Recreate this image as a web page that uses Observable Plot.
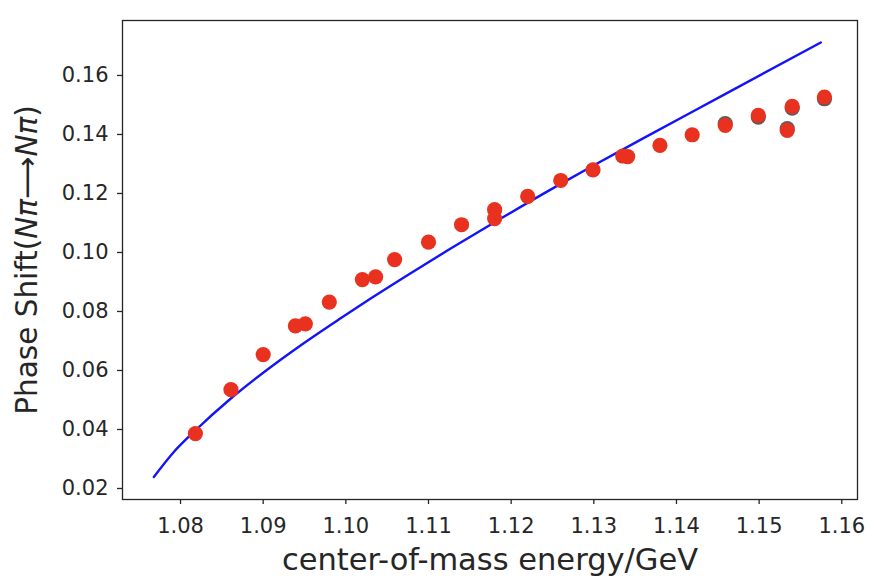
<!DOCTYPE html>
<html>
<head>
<meta charset="utf-8">
<script src="https://cdn.jsdelivr.net/npm/d3@7"></script>
<script src="https://cdn.jsdelivr.net/npm/@observablehq/plot@0.6"></script>
<style>
  html, body { margin: 0; padding: 0; background: #fff; }
  #chart svg { display: block; }
</style>
</head>
<body>
<div id="chart"></div>
<script>
// Measured phase shifts (red dots)
const energy = [1.0818, 1.0861, 1.0900, 1.0939, 1.0951, 1.0980, 1.1020, 1.1036, 1.1059, 1.1100,
                1.1140, 1.1180, 1.1180, 1.1220, 1.1260, 1.1299, 1.1335, 1.1341, 1.1380, 1.1419,
                1.1459, 1.1499, 1.1534, 1.1540, 1.1579];
const phase  = [0.0386, 0.0535, 0.0654, 0.0751, 0.0758, 0.0832, 0.0908, 0.0917, 0.0976, 0.1035,
                0.1094, 0.1145, 0.1115, 0.1190, 0.1244, 0.1280, 0.1327, 0.1325, 0.1363, 0.1399,
                0.1431, 0.1465, 0.1414, 0.1495, 0.1527];
// Dark markers partly hidden beneath the red ones
const hiddenEnergy = [1.1459, 1.1499, 1.1534, 1.1540, 1.1579];
const hiddenPhase  = [0.1437, 0.1459, 0.1420, 0.1489, 0.1521];
// Fitted curve (blue line)
const fitEnergy = [1.07677, 1.07919, 1.08182, 1.08605, 1.09008, 1.09452, 1.09937, 1.10300, 1.10784,
                   1.11268, 1.11800, 1.12599, 1.12990, 1.13568, 1.14588, 1.15746];
const fitPhase  = [0.02392, 0.03239, 0.03974, 0.05041, 0.05942, 0.06850, 0.07771, 0.08439, 0.09299,
                   0.10133, 0.11027, 0.12325, 0.12938, 0.13825, 0.15367, 0.17118];
// Axes
const xTicks = [1.08, 1.09, 1.10, 1.11, 1.12, 1.13, 1.14, 1.15, 1.16];
const yTicks = [0.02, 0.04, 0.06, 0.08, 0.10, 0.12, 0.14, 0.16];
const xDomain = [1.07298, 1.16190];
const yDomain = [0.01627, 0.17863];
const xLabel = "center-of-mass energy/GeV";
const yLabel = "Phase Shift(Nπ⟶Nπ)";

const points = energy.map((x, i) => ({x, y: phase[i]}));
const hidden = hiddenEnergy.map((x, i) => ({x, y: hiddenPhase[i]}));
const fit = fitEnergy.map((x, i) => ({x, y: fitPhase[i]}));
const fmt = d3.format(".2f");

const chart = Plot.plot({
  width: 882,
  height: 588,
  marginLeft: 122,
  marginRight: 25,
  marginTop: 20,
  marginBottom: 89,
  style: {fontFamily: "DejaVu Sans", background: "#fff", color: "#262626", overflow: "visible"},
  x: {domain: xDomain},
  y: {domain: yDomain},
  marks: [
    Plot.line(fit, {x: "x", y: "y", stroke: "#1414f8", strokeWidth: 2.4, curve: "monotone-x"}),
    Plot.dot(hidden, {x: "x", y: "y", r: 7.6, fill: "#5c5c5c", stroke: "none"}),
    Plot.dot(points, {x: "x", y: "y", r: 7.6, fill: "#e8321f", stroke: "none"}),
    Plot.frame({stroke: "#262626", strokeWidth: 1.3}),
    Plot.axisX({ticks: xTicks, tickFormat: fmt, tickSize: 5, tickPadding: 14, fontSize: 21, label: null, strokeWidth: 1.3}),
    Plot.axisY({ticks: yTicks, tickFormat: fmt, tickSize: 5, tickPadding: 9, fontSize: 21, label: null, strokeWidth: 1.3}),
    Plot.text([xLabel], {text: d => d, frameAnchor: "bottom", dy: 70, fontSize: 30.5, fill: "#262626"}),
    Plot.text([yLabel], {text: d => d, frameAnchor: "left", dx: -95, rotate: -90, fontSize: 29.5, fill: "#262626"})
  ]
});

// Render the y-label with italic N and π as in the original mathtext
d3.select(chart).selectAll("text").each(function() {
  if (this.textContent === yLabel) {
    const t = d3.select(this);
    t.text(null).attr("text-anchor", "middle");
    const parts = [["Phase Shift(", false], ["N", true], ["π", true], ["⟶", false], ["N", true], ["π", true], [")", false]];
    for (const [s, it] of parts) {
      const sp = t.append("tspan").text(s);
      if (it) sp.attr("font-style", "italic");
    }
  }
});

document.getElementById("chart").appendChild(chart);
</script>
</body>
</html>
